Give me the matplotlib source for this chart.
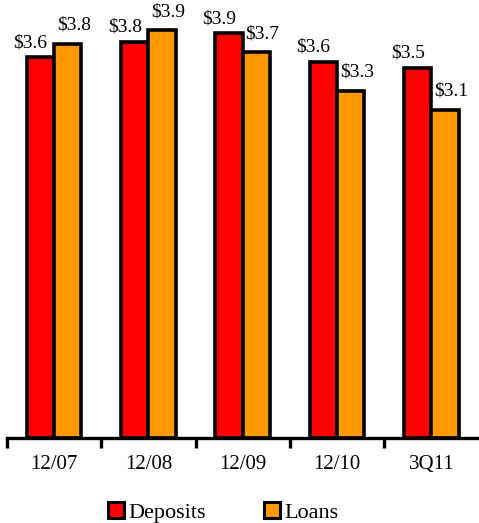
import matplotlib.pyplot as plt
from matplotlib.lines import Line2D
import numpy as np

categories = ["12/07", "12/08", "12/09", "12/10", "3Q11"]
deposits = [3.64, 3.79, 3.87, 3.60, 3.54]
loans = [3.77, 3.90, 3.69, 3.32, 3.14]

RED = "#FF0000"
ORANGE = "#FF9900"

plt.rcParams['font.family'] = 'serif'
plt.rcParams['font.serif'] = ['Liberation Serif', 'DejaVu Serif']

fig = plt.figure(figsize=(4.79, 5.23), dpi=100)
ax = fig.add_axes([7 / 479, 85 / 523, 471.5 / 479, 438 / 523])

x = np.arange(len(categories))
w = 0.29
bd = ax.bar(x - w / 2, deposits, w, color=RED, edgecolor="black", linewidth=2.6)
bl = ax.bar(x + w / 2, loans, w, color=ORANGE, edgecolor="black", linewidth=2.6)

for rect, v in zip(bd, deposits):
    ax.annotate(f"${v:.1f}", (rect.get_x() + rect.get_width() / 2, v),
                xytext=(-10, 6), textcoords="offset pixels",
                ha="center", va="bottom", fontsize=14)
for rect, v in zip(bl, loans):
    ax.annotate(f"${v:.1f}", (rect.get_x() + rect.get_width() / 2, v),
                xytext=(6, 10), textcoords="offset pixels",
                ha="center", va="bottom", fontsize=14)

ax.set_xlim(-0.5, len(categories) - 0.5)
ax.set_ylim(0, 4.19)
for s in ("top", "right", "left"):
    ax.spines[s].set_visible(False)
ax.spines["bottom"].set_linewidth(2.4)
ax.set_yticks([])
ax.set_xticks(x)
ax.set_xticklabels(categories, fontsize=15)
ax.tick_params(axis="x", which="major", length=0, pad=12)
ax.set_xticks(np.arange(len(categories)) - 0.5, minor=True)
ax.tick_params(axis="x", which="minor", length=7, width=2.4, direction="out")

handles = [Line2D([], [], marker="s", ls="", markersize=11, markerfacecolor=RED,
                  markeredgecolor="black", markeredgewidth=2.2),
           Line2D([], [], marker="s", ls="", markersize=11, markerfacecolor=ORANGE,
                  markeredgecolor="black", markeredgewidth=2.2)]
fig.legend(handles, ["Deposits", "Loans"], loc="center", bbox_to_anchor=(0.465, 0.02),
           ncol=2, frameon=False, fontsize=16, handlelength=0.8, handletextpad=0.15,
           columnspacing=2.6)

fig.savefig("out.png", dpi=100)
